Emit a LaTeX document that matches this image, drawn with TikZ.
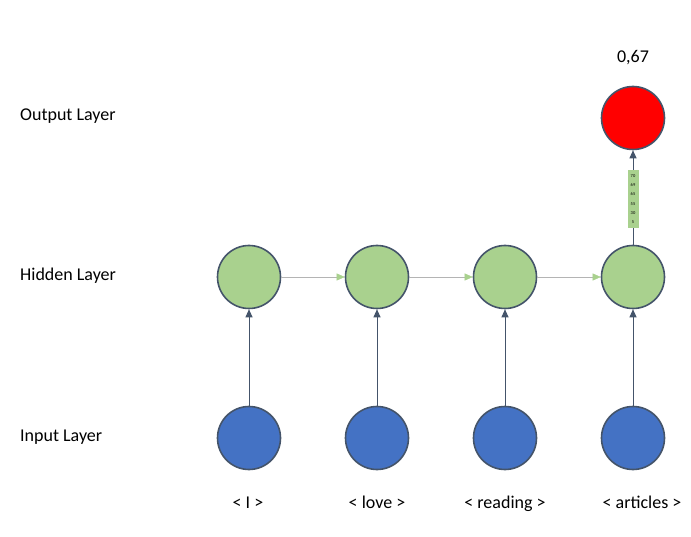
\documentclass[tikz,border=0pt]{standalone}
\usepackage{fontspec}
\setmainfont{Carlito}
\usetikzlibrary{arrows.meta}
\definecolor{hid}{HTML}{A9D18E}
\definecolor{inp}{HTML}{4472C4}
\definecolor{outc}{HTML}{FF0000}
\definecolor{edge}{HTML}{44546A}
\definecolor{hline}{HTML}{B4B4B4}
\begin{document}
\begin{tikzpicture}[x=1pt,y=-1pt,
  neuron/.style={circle,draw=edge,line width=1.6pt,minimum size=63pt,inner sep=0pt},
  lbl/.style={font=\fontsize{18}{21}\selectfont,anchor=base west,text=black,inner sep=0pt},
  word/.style={font=\fontsize{18}{21}\selectfont,anchor=base,text=black,inner sep=0pt},
  uparrow/.style={draw=edge,line width=1pt,-{Triangle[length=8pt,width=7pt]}},
  sidearrow/.style={draw=hline,line width=0.5pt,-{Triangle[length=8pt,width=7pt,fill=hid,color=hid]}}]
\useasboundingbox (0,0) rectangle (691,537);
\node[lbl] (lo) at (20,121) {Output Layer};
\node[lbl] (lh) at (20,281) {Hidden Layer};
\node[lbl] (li) at (20,441) {Input Layer};
\foreach \i/\x in {1/249,2/377,3/505,4/633}{
  \node[neuron,fill=hid] (h\i) at (\x,277) {};
  \node[neuron,fill=inp] (i\i) at (\x,438) {};
}
\node[neuron,fill=outc] (o) at (633,118) {};
\node[word] (val) at (633,63) {0,67};
\node[word] (w1) at (248,508) {< I >};
\node[word] (w2) at (377,508) {< love >};
\node[word] (w3) at (505,508) {< reading >};
\node[word] (w4) at (642,508) {< articles >};
\foreach \i in {1,2,3,4}{ \draw[uparrow] (i\i) -- (h\i); }
\draw[sidearrow] (h1) -- (h2);
\draw[sidearrow] (h2) -- (h3);
\draw[sidearrow] (h3) -- (h4);
\draw[uparrow] (h4) -- (o);
\node[fill=hid,minimum width=11pt,minimum height=58pt,inner sep=0pt,align=center,
  font=\fontsize{4.5}{9.3}\selectfont] (vec) at (633,199) {70\\69\\65\\55\\30\\5};
\end{tikzpicture}
\end{document}
